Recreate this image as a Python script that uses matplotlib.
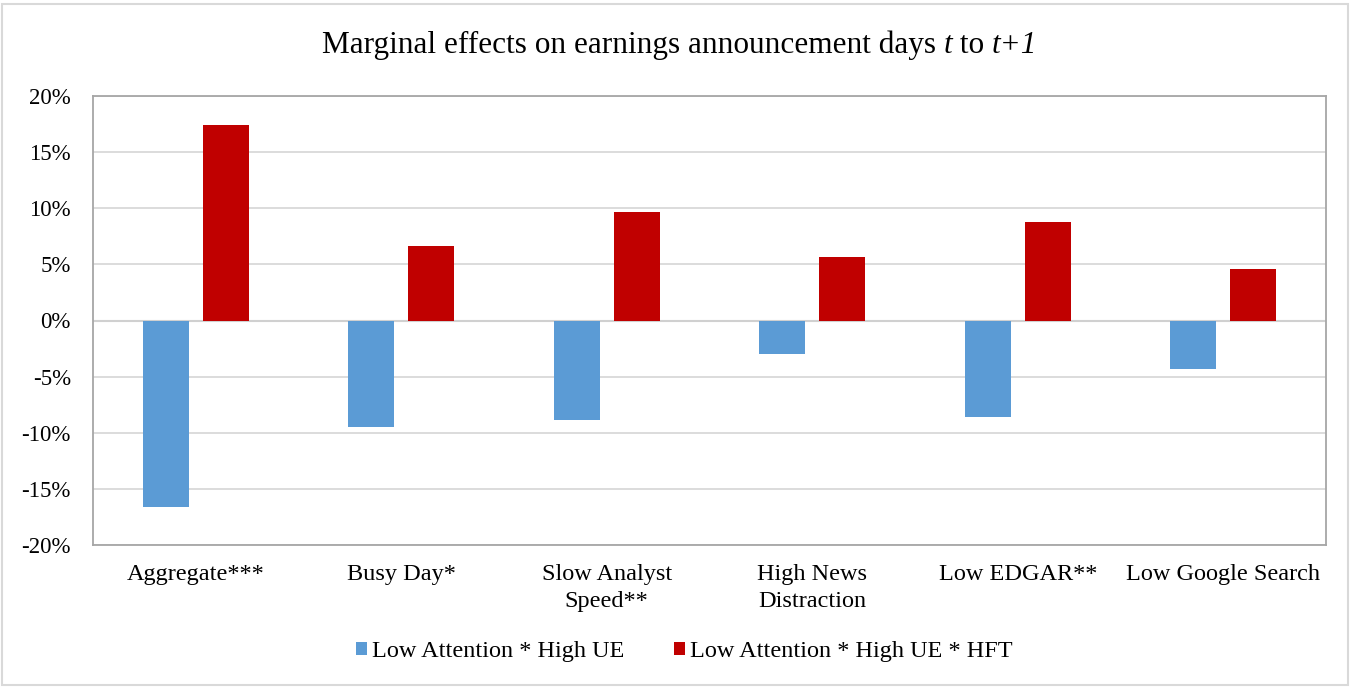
import matplotlib
matplotlib.use("Agg")
import matplotlib.pyplot as plt
import numpy as np
from matplotlib.patches import Rectangle
from matplotlib.offsetbox import TextArea, HPacker, AnchoredOffsetbox

plt.rcParams['font.family'] = ['Liberation Serif', 'DejaVu Serif']

categories = ["Aggregate***", "Busy Day*", "Slow Analyst\nSpeed**", "High News\nDistraction",
              "Low EDGAR**", "Low Google Search"]
low_attention_high_ue = [-16.6, -9.5, -8.9, -3.0, -8.6, -4.3]
low_attention_high_ue_hft = [17.4, 6.6, 9.7, 5.7, 8.8, 4.6]
series_names = ["Low Attention * High UE", "Low Attention * High UE * HFT"]
yticks = [-20, -15, -10, -5, 0, 5, 10, 15, 20]
title_parts = [("Marginal effects on earnings announcement days ", "normal"), ("t", "italic"),
               (" to ", "normal"), ("t+1", "italic")]

blue = "#5B9BD5"
red = "#C00000"

fig = plt.figure(figsize=(13.51, 6.87), dpi=100)
ax = fig.add_axes([93/1351, 1-545/687, (1326-93)/1351, (545-96)/687])

x = np.arange(len(categories))
w = 0.224
off = 0.145
b1 = ax.bar(x - off, low_attention_high_ue, w, color=blue, label=series_names[0], zorder=3)
b2 = ax.bar(x + off, low_attention_high_ue_hft, w, color=red, label=series_names[1], zorder=3)

ax.set_xlim(-0.5, len(categories) - 0.5)
ax.set_ylim(-20, 20)
ax.set_yticks(yticks)
ax.set_yticklabels([f"{v}%" for v in yticks], fontsize=16.5)
ax.set_xticks(x)
ax.set_xticklabels(categories, fontsize=17.5, linespacing=1.35, va='top')
ax.tick_params(axis='both', length=0)
ax.tick_params(axis='y', pad=16)
ax.tick_params(axis='x', pad=14)
for yy in yticks:
    ax.axhline(yy, color="#D9D9D9", lw=1.3, zorder=1)
ax.axhline(0, color="#D0D0D0", lw=1.5, zorder=2)
for s in ax.spines.values():
    s.set_color("#A6A6A6")
    s.set_linewidth(1.3)

areas = [TextArea(t, textprops=dict(fontsize=22.5, style=st)) for t, st in title_parts]
pack = HPacker(children=areas, align="baseline", pad=0, sep=0)
anch = AnchoredOffsetbox(loc='center', child=pack, frameon=False, pad=0, borderpad=0,
                         bbox_to_anchor=(0.503, 1-45/687), bbox_transform=fig.transFigure)
fig.add_artist(anch)

leg = fig.legend(handles=[b1, b2], loc='center', bbox_to_anchor=(684.5/1351, 1-652/687), ncol=2,
                 frameon=False, fontsize=17.5, handlelength=0.45, handleheight=0.45,
                 handletextpad=0.2, columnspacing=2.05)

fig.patches.append(Rectangle((2/1351, 2/687), 1346/1351, 681/687, transform=fig.transFigure,
                             fill=False, edgecolor="#D9D9D9", lw=1.5))

fig.savefig("out.png", dpi=100)
